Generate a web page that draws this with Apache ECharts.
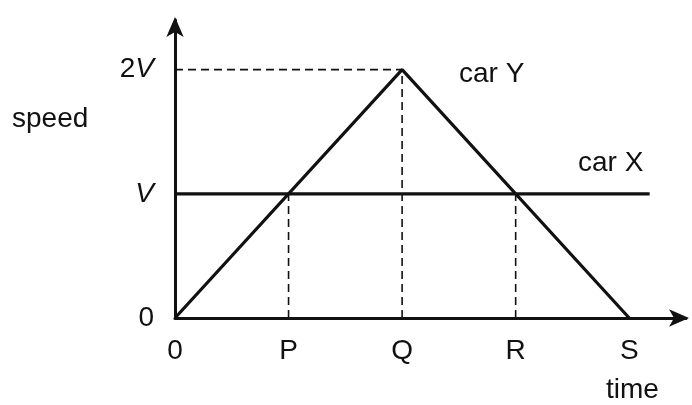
<!DOCTYPE html>
<html><head><meta charset="utf-8">
<script src="https://cdn.jsdelivr.net/npm/echarts@6/dist/echarts.min.js"></script>
<style>html,body{margin:0;padding:0;background:#fff}#c{width:692px;height:405px}</style>
</head><body><div id="c"></div>
<script>
// Data
const xTickValues = [0, 1, 2, 3, 4];
const xTickLabels = ['0', 'P', 'Q', 'R', 'S'];
const yTickValues = [0, 1, 2];
const yTickLabels = ['0', '{i|V}', '2{i|V}'];
const carY = [[0, 0], [2, 2], [4, 0]];
const carX = [[0, 1], [4.18, 1]];
const guideTop = [[0, 2], [2, 2]];
const guideQ = [[2, 0], [2, 2]];
const guideP = [[1, 0], [1, 1]];
const guideR = [[3, 0], [3, 1]];

const FONT = '"Liberation Sans", Arial, sans-serif';
const FS = 28;
const chart = echarts.init(document.getElementById('c'), null, {renderer: 'canvas'});
const solid = {color: '#111', width: 3.2};
const dashed = {color: '#111', width: 1.6, type: [8, 5]};
function line(data, style) {
  return {type: 'line', data: data, symbol: 'none', lineStyle: style, silent: true, z: 3};
}
chart.setOption({
  animation: false,
  backgroundColor: '#fff',
  grid: {left: 175, right: 6, top: 20, bottom: 87},
  xAxis: {
    type: 'value', min: 0, max: 4.5, interval: 1,
    axisLine: {lineStyle: {color: '#111', width: 3}, symbol: ['none', 'arrow'], symbolSize: [13, 20], symbolOffset: [0, 3]},
    axisTick: {show: false}, splitLine: {show: false},
    axisLabel: {
      margin: 19, color: '#111', fontSize: FS, fontFamily: FONT, showMaxLabel: false,
      formatter: function (v) { const i = xTickValues.indexOf(v); return i >= 0 ? xTickLabels[i] : ''; }
    }
  },
  yAxis: {
    type: 'value', min: 0, max: 2.4, interval: 1,
    axisLine: {show: true, lineStyle: {color: '#111', width: 3}, symbol: ['none', 'arrow'], symbolSize: [13, 20], symbolOffset: [0, 3]},
    axisTick: {show: false}, splitLine: {show: false},
    axisLabel: {
      margin: 21, color: '#111', fontSize: FS, fontFamily: FONT, showMaxLabel: false,
      formatter: function (v) { const i = yTickValues.indexOf(v); return i >= 0 ? yTickLabels[i] : ''; },
      rich: {i: {fontStyle: 'italic', fontSize: FS, fontFamily: FONT, color: '#111'}}
    }
  },
  series: [
    line(guideTop, dashed), line(guideQ, dashed), line(guideP, dashed), line(guideR, dashed),
    line(carY, solid), line(carX, solid)
  ],
  graphic: [
    {type: 'text', left: 12, top: 105, style: {text: 'speed', fill: '#111', font: FS + 'px ' + FONT}},
    {type: 'text', left: 606, top: 376, style: {text: 'time', fill: '#111', font: FS + 'px ' + FONT}},
    {type: 'text', left: 459, top: 60, style: {text: 'car Y', fill: '#111', font: FS + 'px ' + FONT}},
    {type: 'text', left: 578, top: 149, style: {text: 'car X', fill: '#111', font: FS + 'px ' + FONT}}
  ]
});
</script></body></html>
